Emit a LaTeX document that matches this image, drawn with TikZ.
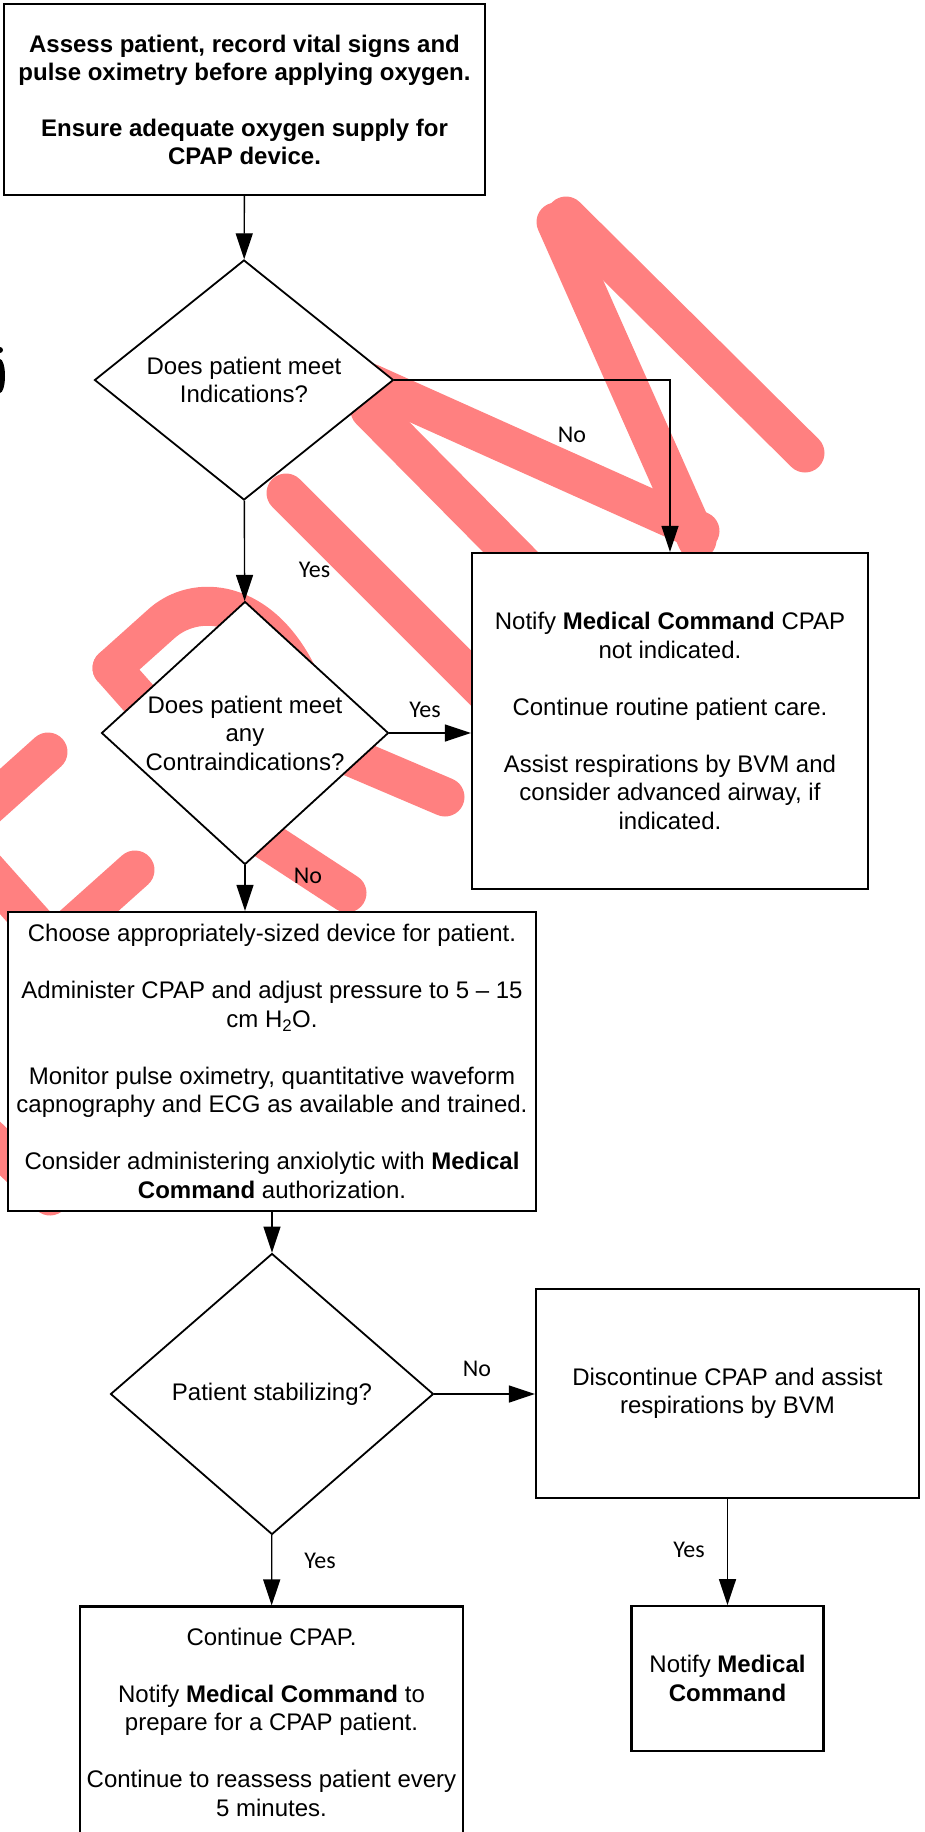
\documentclass[tikz,border=0pt]{standalone}
\usepackage{fontspec}
\setmainfont{Liberation Sans}
\newfontfamily\lblfont{Carlito}
\usepackage{xcolor}
\usetikzlibrary{arrows.meta,shapes.geometric}
\definecolor{wmred}{RGB}{255,128,128}

\begin{document}
\begin{tikzpicture}[x=1pt,y=-1pt]
  \tikzstyle{wm}=[draw=wmred,line width=39pt,line cap=round,line join=round]
  \tikzstyle{box}=[rectangle,draw,fill=white,line width=2.2pt,align=center,inner sep=0pt,font=\fontsize{24}{28.5}\selectfont]
  \tikzstyle{decision}=[diamond,draw,fill=white,line width=1.8pt,inner sep=0pt]
  \tikzstyle{qtext}=[align=center,font=\fontsize{24}{28.5}\selectfont]
  \tikzstyle{lbl}=[font=\lblfont\fontsize{24}{28}\selectfont,anchor=base]
  \tikzstyle{arrow}=[-{Triangle[length=26pt,width=17pt]},line width=1.4pt]
  \useasboundingbox (0,0) rectangle (925,1832);
  \clip (0,0) rectangle (925,1832);
  \fill[white] (0,0) rectangle (925,1832);
  \foreach \xa/\ya/\xb/\yb in {370/410/560/602,370/383/700/531,556/222/697/540,566/216/805/453,
    286/493/520/727,48/752/-30/822,135/870/60/937,-40/840/60/952,112/668/220/790,
    220/810/347/893,330/748/445/797,-30/1120/50/1196}
    \draw[wm] (\xa,\ya) -- (\xb,\yb);
  \draw[wm] (112,668) -- (160,625) .. controls (195,592) and (262,598) .. (300,680);
  \fill (0,350) circle (3pt);
  \fill (0,376) ellipse (5pt and 17pt);

  \node[box,minimum width=481pt,minimum height=191pt,font=\bfseries\fontsize{24}{28}\selectfont] (assess) at (244.5,99.5)
    {Assess patient, record vital signs and\\pulse oximetry before applying oxygen.\\[28pt]Ensure adequate oxygen supply for\\CPAP device.};
  \node[decision,minimum width=299pt,minimum height=240pt,label={[qtext]center:Does patient meet\\Indications?}] (indic) at (244,380) {};
  \node[decision,minimum width=287pt,minimum height=263pt,label={[qtext]center:Does patient meet\\any\\Contraindications?}] (contra) at (245,733) {};
  \node[box,minimum width=396pt,minimum height=336pt] (notind) at (670,721)
    {Notify \textbf{Medical Command} CPAP\\not indicated.\\[28.5pt]Continue routine patient care.\\[28.5pt]Assist respirations by BVM and\\consider advanced airway, if\\indicated.};
  \node[box,minimum width=528pt,minimum height=299pt] (device) at (272,1061.5)
    {Choose appropriately-sized device for patient.\\[28.5pt]Administer CPAP and adjust pressure to 5 -- 15\\cm H\textsubscript{2}O.\\[28.5pt]Monitor pulse oximetry, quantitative waveform\\capnography and ECG as available and trained.\\[28.5pt]Consider administering anxiolytic with \textbf{Medical}\\\textbf{Command} authorization.};
  \node[decision,minimum width=323pt,minimum height=281pt,label={[qtext]center:Patient stabilizing?}] (stable) at (272,1394) {};
  \node[box,minimum width=383pt,minimum height=209pt] (stop) at (727.5,1393.5) {Discontinue CPAP and assist\\respirations by BVM};
  \node[box,minimum width=192pt,minimum height=144.5pt] (notify) at (727.5,1678.5) {Notify \textbf{Medical}\\\textbf{Command}};
  \node[box,minimum width=383pt,minimum height=231pt] (cont) at (271.5,1722)
    {Continue CPAP.\\[28.5pt]Notify \textbf{Medical Command} to\\prepare for a CPAP patient.\\[28.5pt]Continue to reassess patient every\\5 minutes.};

  \draw[arrow] (assess) -- (indic);
  \draw[arrow] (indic) -- (contra);
  \draw[arrow] (indic.east) -| (notind.north);
  \draw[arrow] (contra.east) -- (contra.east -| notind.west);
  \draw[arrow] (contra.south) -- (contra.south |- device.north);
  \draw[arrow] (device) -- (stable);
  \draw[arrow] (stable.east) -- (stable.east -| stop.west);
  \draw[arrow] (stable) -- (cont);
  \draw[arrow] (stop) -- (notify);

  \node[lbl] (noind) at (572,442) {No};
  \node[lbl] (yesind) at (314.5,577) {Yes};
  \node[lbl] (yescon) at (425,717) {Yes};
  \node[lbl] (nocon) at (308,883) {No};
  \node[lbl] (nostab) at (477,1376) {No};
  \node[lbl] (yesstab) at (320,1568) {Yes};
  \node[lbl] (yesstop) at (689,1557) {Yes};
\end{tikzpicture}
\end{document}
